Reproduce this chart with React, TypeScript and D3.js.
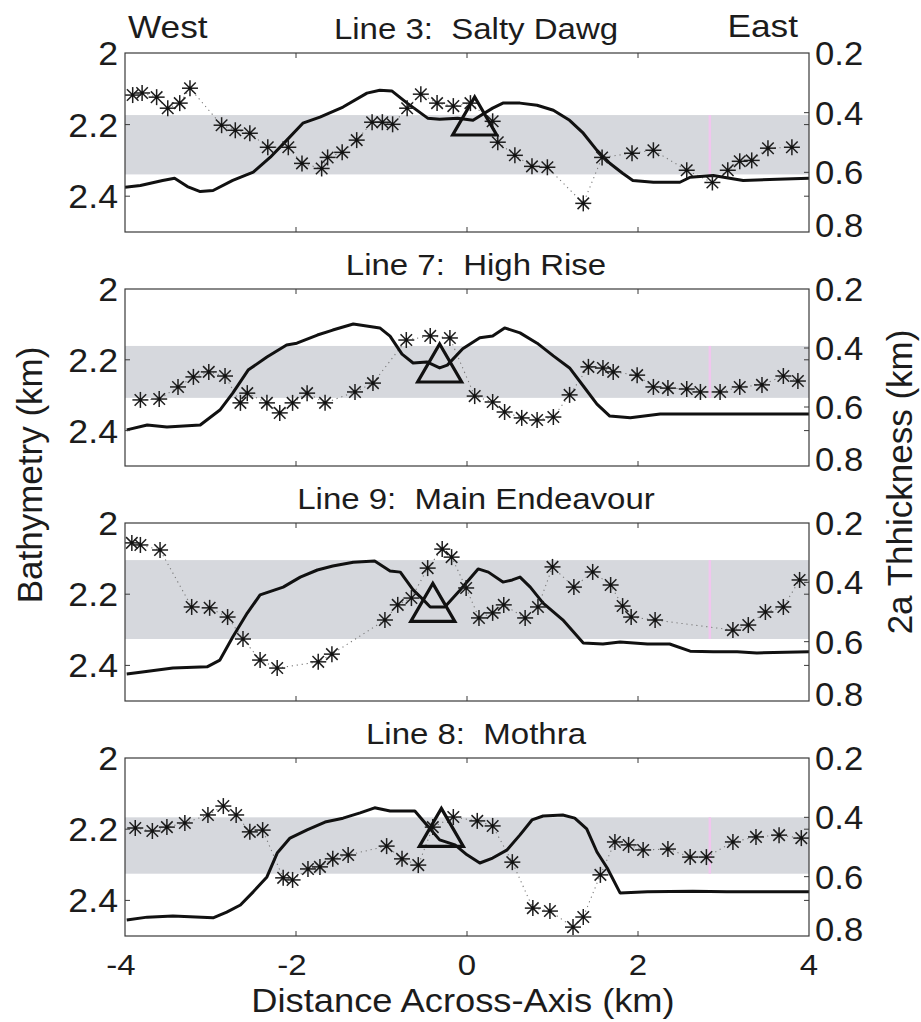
import React from "react";
import * as d3 from "d3";

// ---------- data ----------
const titles = ["Line 3:  Salty Dawg", "Line 7:  High Rise", "Line 9:  Main Endeavour", "Line 8:  Mothra"];
const xTicks = [-4, -2, 0, 2, 4];
const leftTicks = [2, 2.2, 2.4];
const leftTickLabels = ["2", "2.2", "2.4"];
const rightTicks = [0.2, 0.4, 0.6, 0.8];
const rightTickLabels = ["0.2", "0.4", "0.6", "0.8"];

// Line 3 : Salty Dawg
const l3BathyX = [-4.0, -3.82, -3.56, -3.42, -3.27, -3.12, -2.97, -2.74, -2.5, -2.3, -2.11, -1.92, -1.72, -1.45, -1.17, -1.02, -0.88, -0.7, -0.46, -0.32, -0.11, 0.07, 0.3, 0.42, 0.62, 0.82, 1.01, 1.2, 1.36, 1.52, 1.67, 1.82, 1.94, 2.18, 2.49, 2.61, 2.88, 3.23, 3.63, 4.0];
const l3BathyZ = [2.375, 2.37, 2.356, 2.35, 2.373, 2.387, 2.384, 2.356, 2.333, 2.291, 2.244, 2.196, 2.179, 2.151, 2.112, 2.104, 2.106, 2.14, 2.182, 2.185, 2.182, 2.188, 2.154, 2.14, 2.14, 2.146, 2.16, 2.188, 2.224, 2.272, 2.308, 2.336, 2.356, 2.361, 2.361, 2.347, 2.342, 2.356, 2.353, 2.35];
const l3StarX = [-3.91, -3.8, -3.63, -3.5, -3.36, -3.24, -2.87, -2.71, -2.54, -2.33, -2.09, -1.93, -1.7, -1.63, -1.46, -1.29, -1.11, -0.99, -0.87, -0.7, -0.54, -0.35, -0.16, 0.04, 0.3, 0.36, 0.56, 0.76, 0.94, 1.36, 1.58, 1.93, 2.18, 2.57, 2.87, 3.05, 3.19, 3.33, 3.52, 3.8];
const l3StarT = [0.341, 0.334, 0.348, 0.385, 0.368, 0.318, 0.442, 0.459, 0.469, 0.516, 0.516, 0.57, 0.587, 0.55, 0.533, 0.492, 0.432, 0.432, 0.439, 0.385, 0.338, 0.368, 0.378, 0.368, 0.429, 0.499, 0.543, 0.58, 0.583, 0.704, 0.55, 0.536, 0.526, 0.593, 0.634, 0.593, 0.563, 0.56, 0.519, 0.516];

// Line 7 : High Rise
const l7BathyX = [-3.98, -3.74, -3.51, -3.12, -2.89, -2.74, -2.56, -2.34, -2.11, -1.99, -1.75, -1.57, -1.33, -1.02, -0.9, -0.76, -0.63, -0.47, -0.32, -0.23, -0.05, 0.15, 0.3, 0.44, 0.62, 0.82, 1.01, 1.2, 1.36, 1.52, 1.67, 1.91, 2.26, 3.04, 4.0];
const l7BathyZ = [2.398, 2.384, 2.39, 2.384, 2.342, 2.294, 2.229, 2.192, 2.158, 2.153, 2.13, 2.116, 2.099, 2.11, 2.133, 2.184, 2.209, 2.206, 2.223, 2.215, 2.169, 2.138, 2.133, 2.11, 2.124, 2.153, 2.189, 2.223, 2.274, 2.325, 2.359, 2.364, 2.353, 2.353, 2.353];
const l7StarX = [-3.82, -3.6, -3.38, -3.2, -3.02, -2.83, -2.65, -2.57, -2.34, -2.19, -2.04, -1.87, -1.66, -1.31, -1.1, -0.71, -0.43, -0.2, 0.09, 0.3, 0.44, 0.64, 0.82, 1.01, 1.2, 1.42, 1.59, 1.71, 1.99, 2.18, 2.35, 2.57, 2.73, 2.96, 3.19, 3.45, 3.7, 3.87];
const l7StarT = [0.576, 0.573, 0.532, 0.498, 0.481, 0.495, 0.586, 0.553, 0.586, 0.62, 0.586, 0.553, 0.586, 0.549, 0.519, 0.373, 0.359, 0.366, 0.563, 0.583, 0.617, 0.637, 0.644, 0.634, 0.559, 0.464, 0.468, 0.481, 0.492, 0.532, 0.536, 0.539, 0.549, 0.549, 0.532, 0.525, 0.495, 0.512];

// Line 9 : Main Endeavour
const l9BathyX = [-3.98, -3.82, -3.44, -3.04, -2.89, -2.74, -2.57, -2.42, -2.15, -1.95, -1.75, -1.57, -1.33, -1.08, -0.9, -0.78, -0.63, -0.51, -0.43, -0.26, -0.08, 0.13, 0.25, 0.42, 0.53, 0.62, 0.74, 0.89, 1.12, 1.36, 1.59, 1.79, 2.11, 2.37, 2.61, 2.88, 3.16, 3.39, 4.0];
const l9BathyZ = [2.424, 2.419, 2.407, 2.404, 2.385, 2.32, 2.253, 2.202, 2.18, 2.152, 2.132, 2.121, 2.11, 2.107, 2.135, 2.138, 2.188, 2.216, 2.236, 2.236, 2.188, 2.129, 2.138, 2.166, 2.16, 2.152, 2.18, 2.225, 2.272, 2.337, 2.34, 2.334, 2.34, 2.34, 2.36, 2.362, 2.362, 2.365, 2.362];
const l9StarX = [-3.92, -3.82, -3.59, -3.22, -3.01, -2.8, -2.62, -2.42, -2.22, -1.74, -1.58, -0.96, -0.81, -0.65, -0.46, -0.29, -0.18, -0.01, 0.14, 0.3, 0.43, 0.68, 0.83, 1.0, 1.25, 1.47, 1.68, 1.82, 1.92, 2.2, 3.11, 3.29, 3.49, 3.7, 3.89];
const l9StarT = [0.267, 0.274, 0.291, 0.483, 0.486, 0.517, 0.591, 0.662, 0.689, 0.668, 0.642, 0.527, 0.476, 0.453, 0.352, 0.288, 0.315, 0.419, 0.52, 0.503, 0.476, 0.52, 0.483, 0.348, 0.416, 0.365, 0.409, 0.48, 0.517, 0.527, 0.561, 0.544, 0.5, 0.483, 0.392];

// Line 8 : Mothra
const l8BathyX = [-3.98, -3.74, -3.44, -2.97, -2.81, -2.65, -2.5, -2.34, -2.22, -2.07, -1.87, -1.66, -1.45, -1.25, -1.08, -0.9, -0.61, -0.47, -0.32, -0.14, 0.0, 0.15, 0.3, 0.47, 0.62, 0.76, 0.89, 1.12, 1.26, 1.4, 1.52, 1.64, 1.79, 2.11, 2.64, 3.04, 4.0];
const l8BathyZ = [2.455, 2.447, 2.444, 2.449, 2.433, 2.413, 2.376, 2.334, 2.267, 2.225, 2.202, 2.18, 2.169, 2.154, 2.14, 2.149, 2.149, 2.188, 2.23, 2.244, 2.272, 2.295, 2.281, 2.258, 2.216, 2.174, 2.163, 2.16, 2.169, 2.199, 2.264, 2.309, 2.379, 2.376, 2.374, 2.376, 2.376];
const l8StarX = [-3.88, -3.68, -3.51, -3.3, -3.03, -2.85, -2.7, -2.54, -2.39, -2.15, -2.04, -1.86, -1.72, -1.57, -1.39, -0.94, -0.76, -0.57, -0.4, -0.16, 0.12, 0.3, 0.53, 0.77, 0.97, 1.24, 1.36, 1.56, 1.73, 1.89, 2.06, 2.35, 2.61, 2.8, 3.11, 3.38, 3.65, 3.91];
const l8StarT = [0.436, 0.446, 0.433, 0.419, 0.392, 0.362, 0.392, 0.449, 0.443, 0.604, 0.611, 0.574, 0.567, 0.54, 0.527, 0.497, 0.54, 0.561, 0.433, 0.399, 0.412, 0.429, 0.551, 0.706, 0.716, 0.77, 0.736, 0.594, 0.483, 0.493, 0.51, 0.507, 0.534, 0.534, 0.483, 0.466, 0.46, 0.47];

// grey band (2a thickness range, km) and vent triangle (x km, depth km)
const bandLow = [0.408, 0.393, 0.325, 0.4];
const bandHigh = [0.607, 0.569, 0.591, 0.59];
const ventX = [0.09, -0.32, -0.4, -0.3];
const ventZ = [2.176, 2.209, 2.223, 2.195];
const artifactX = 2.84;

const panels = [
  { title: titles[0], bx: l3BathyX, bz: l3BathyZ, sx: l3StarX, st: l3StarT },
  { title: titles[1], bx: l7BathyX, bz: l7BathyZ, sx: l7StarX, st: l7StarT },
  { title: titles[2], bx: l9BathyX, bz: l9BathyZ, sx: l9StarX, st: l9StarT },
  { title: titles[3], bx: l8BathyX, bz: l8BathyZ, sx: l8StarX, st: l8StarT },
];

// ---------- layout ----------
const W = 921, H = 1022;
const plotLeft = 125, plotRight = 809;
const panelTop = [53, 289, 523, 758];
const panelBottom = [232, 466, 701, 936];
const FONT = "'Liberation Sans', Arial, Helvetica, sans-serif";
const INK = "#1c1c1c";
const SX = 1.1;

function T({ x, y, size, anchor = "start", children, rotate = 0, sx = SX }: any) {
  const tr = rotate ? `translate(${x},${y}) rotate(${rotate})` : `translate(${x},${y}) scale(${sx},1)`;
  return (
    <text transform={tr} fontFamily={FONT} fontSize={size} textAnchor={anchor} fill={INK} style={{ whiteSpace: "pre" }}>
      {children}
    </text>
  );
}

function Star({ cx, cy }: { cx: number; cy: number }) {
  const r = 8, d = r * 0.72;
  return (
    <g stroke="#1e1e1e" strokeWidth={1.5}>
      <line x1={cx - r} y1={cy} x2={cx + r} y2={cy} />
      <line x1={cx} y1={cy - r} x2={cx} y2={cy + r} />
      <line x1={cx - d} y1={cy - d} x2={cx + d} y2={cy + d} />
      <line x1={cx - d} y1={cy + d} x2={cx + d} y2={cy - d} />
      <circle cx={cx} cy={cy} r={1.8} fill="#111" stroke="none" />
    </g>
  );
}

function Panel({ i }: { i: number }) {
  const p = panels[i];
  const top = panelTop[i], bottom = panelBottom[i];
  const x = d3.scaleLinear().domain([-4, 4]).range([plotLeft, plotRight]);
  const yL = d3.scaleLinear().domain([2, 2.5]).range([top, bottom]);
  const yR = d3.scaleLinear().domain([0.2, 0.8]).range([top, bottom]);
  const bathy = d3.line<number>().x((_, k) => x(p.bx[k])).y((v) => yL(v))(p.bz) || "";
  const starIdx = p.sx.map((_, k) => k);
  const dots = d3.line<number>().x((k) => x(p.sx[k])).y((k) => yR(p.st[k]))(starIdx) || "";
  const vx = x(ventX[i]), vy = yL(ventZ[i]);
  const tw = 44, th = 38;
  const tri = `M${vx},${vy - th / 2} L${vx + tw / 2},${vy + th / 2} L${vx - tw / 2},${vy + th / 2} Z`;
  const tick = 5;
  return (
    <g>
      <defs>
        <clipPath id={`clip${i}`}>
          <rect x={plotLeft} y={top} width={plotRight - plotLeft} height={bottom - top} />
        </clipPath>
      </defs>
      <rect x={plotLeft} y={yR(bandLow[i])} width={plotRight - plotLeft} height={yR(bandHigh[i]) - yR(bandLow[i])} fill="#d6d8dd" />
      <line x1={x(artifactX)} x2={x(artifactX)} y1={yR(bandLow[i])} y2={yR(bandHigh[i])} stroke="#f1c6ee" strokeWidth={2.5} />
      <g clipPath={`url(#clip${i})`}>
        <path d={dots} fill="none" stroke="#7a7a7a" strokeWidth={1.1} strokeDasharray="1.2 3.8" />
        <path d={bathy} fill="none" stroke="#111" strokeWidth={3} strokeLinejoin="round" />
        {starIdx.map((k) => (
          <Star key={k} cx={x(p.sx[k])} cy={yR(p.st[k])} />
        ))}
        <path d={tri} fill="none" stroke="#111" strokeWidth={3.2} strokeLinejoin="miter" />
      </g>
      <rect x={plotLeft} y={top} width={plotRight - plotLeft} height={bottom - top} fill="none" stroke="#3a3a3a" strokeWidth={1.2} />
      {xTicks.slice(1, -1).map((t) => (
        <g key={t} stroke="#3a3a3a" strokeWidth={1}>
          <line x1={x(t)} x2={x(t)} y1={top} y2={top + tick} />
          <line x1={x(t)} x2={x(t)} y1={bottom} y2={bottom - tick} />
        </g>
      ))}
      {leftTicks.slice(1).map((t) => (
        <g key={t} stroke="#3a3a3a" strokeWidth={1}>
          <line x1={plotLeft} x2={plotLeft + tick} y1={yL(t)} y2={yL(t)} />
          <line x1={plotRight} x2={plotRight - tick} y1={yL(t)} y2={yL(t)} />
        </g>
      ))}
      {rightTicks.slice(1, -1).map((t) => (
        <line key={t} x1={plotRight} x2={plotRight - tick} y1={yR(t)} y2={yR(t)} stroke="#3a3a3a" strokeWidth={1} />
      ))}
      {leftTicks.map((t, k) => (
        <T key={t} x={118} y={yL(t) + 12} size={34} anchor="end" sx={1.05}>
          {leftTickLabels[k]}
        </T>
      ))}
      {rightTicks.map((t, k) => (
        <T key={t} x={815} y={yR(t) + (k === 3 ? 5 : 12)} size={33} anchor="start" sx={1.05}>
          {rightTickLabels[k]}
        </T>
      ))}
      <T x={476} y={top - 14} size={30} anchor="middle">
        {p.title}
      </T>
    </g>
  );
}

export default function App() {
  const x = d3.scaleLinear().domain([-4, 4]).range([plotLeft, plotRight]);
  return (
    <div style={{ position: "absolute", left: 0, top: 0, background: "#fff" }}>
      <svg width={W} height={H} viewBox={`0 0 ${W} ${H}`} style={{ display: "block" }}>
        <rect width={W} height={H} fill="#fff" />
        {panels.map((_, i) => (
          <Panel key={i} i={i} />
        ))}
        <T x={128} y={38} size={32} anchor="start">West</T>
        <T x={798} y={37} size={32} anchor="end">East</T>
        {xTicks.map((t) => (
          <T key={t} x={x(t) - (t < 0 ? 4 : 0)} y={975} size={30} anchor="middle" sx={1.1}>
            {String(t)}
          </T>
        ))}
        <T x={463} y={1012} size={33} anchor="middle">Distance Across-Axis (km)</T>
        <T x={42} y={475} size={35} anchor="middle" rotate={-90}>Bathymetry (km)</T>
        <T x={912} y={482} size={35} anchor="middle" rotate={-90}>2a Thhickness (km)</T>
      </svg>
    </div>
  );
}
